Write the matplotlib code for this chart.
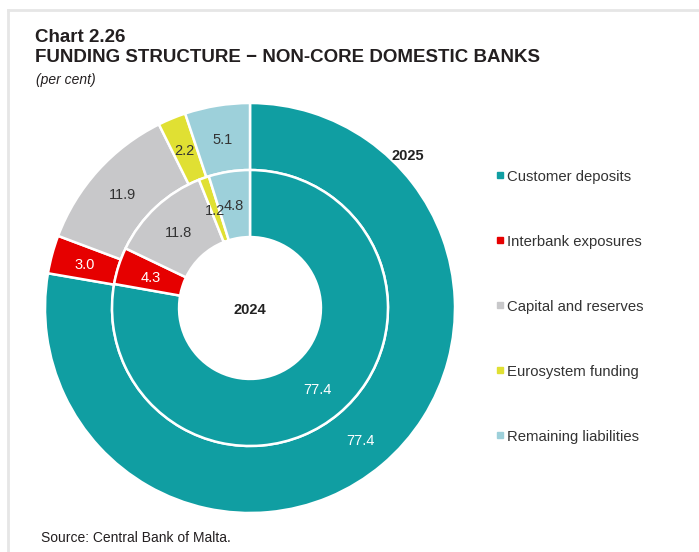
import numpy as np
import matplotlib
matplotlib.use('Agg')
import matplotlib.pyplot as plt
from matplotlib.lines import Line2D

plt.rcParams['font.family'] = ['Liberation Sans', 'DejaVu Sans']

categories = ['Customer deposits', 'Interbank exposures', 'Capital and reserves',
              'Eurosystem funding', 'Remaining liabilities']
vals_2025 = [77.4, 3.0, 11.9, 2.2, 5.1]
vals_2024 = [77.4, 4.3, 11.8, 1.2, 4.8]
colors = ['#109ea2', '#e60000', '#c8c8ca', '#e0e033', '#9dd0da']
label_colors = ['white', 'white', '#333333', '#333333', '#333333']

W, H = 699, 552
fig = plt.figure(figsize=(W / 100, H / 100), dpi=100)


def px(x, y):
    # pixel position (from top-left) to figure fraction
    return x / W, 1 - y / H


# pie axes: centre (250, 308) px, outer radius 205 px
cx, cy, R = 250, 308, 205
ax = fig.add_axes([(cx - R) / W, (H - cy - R) / H, 2 * R / W, 2 * R / H])
ring = 0.327
wp = dict(width=ring, edgecolor='white', linewidth=1.8)

outer, _ = ax.pie(vals_2025, radius=1.0, colors=colors, startangle=90,
                  counterclock=False, wedgeprops=wp)
inner, _ = ax.pie(vals_2024, radius=1.0 - ring, colors=colors, startangle=90,
                  counterclock=False, wedgeprops=wp)
ax.set_xlim(-1, 1)
ax.set_ylim(-1, 1)
ax.set_aspect('equal')
ax.axis('off')


def put_labels(wedges, vals, r_mid):
    for w, v, c in zip(wedges, vals, label_colors):
        ang = np.deg2rad((w.theta1 + w.theta2) / 2)
        ax.text(r_mid * np.cos(ang), r_mid * np.sin(ang), '%.1f' % v,
                ha='center', va='center_baseline', fontsize=10.5, color=c)


put_labels(outer, vals_2025, 1.0 - ring / 2)
put_labels(inner, vals_2024, 1.0 - ring * 1.5)

ax.text(0, 0, '2024', ha='center', va='center_baseline', fontsize=10.5,
        fontweight='bold', color='#222222')
fig.text(*px(408, 154), '2025', ha='center', va='center_baseline',
         fontsize=10.5, fontweight='bold', color='#222222')

# legend
for i, (name, col) in enumerate(zip(categories, colors)):
    y = 175 + 65 * i
    fig.add_artist(Line2D([px(500, y)[0]], [px(500, y)[1]], marker='s',
                          markersize=4.5, color=col, linestyle='none'))
    fig.text(*px(507, y + 6), name, ha='left', va='baseline', fontsize=10.7,
             color='#333333')

# titles
fig.text(*px(35, 42), 'Chart 2.26', ha='left', va='baseline',
         fontsize=13.5, fontweight='bold', color='#231f20')
fig.text(*px(35, 62), 'FUNDING STRUCTURE \u2212 NON-CORE DOMESTIC BANKS',
         ha='left', va='baseline', fontsize=13.5, fontweight='bold',
         color='#231f20')
fig.text(*px(36, 84), '(per cent)', ha='left', va='baseline',
         fontsize=10, style='italic', color='#231f20')
fig.text(*px(41, 542), 'Source: Central Bank of Malta.', ha='left',
         va='baseline', fontsize=10, color='#231f20')

# frame lines
fig.add_artist(Line2D([8 / W, 1], [1 - 10 / H, 1 - 10 / H], color='#e6e6e6',
                      linewidth=2))
fig.add_artist(Line2D([8 / W, 8 / W], [0, 1 - 10 / H], color='#e6e6e6',
                      linewidth=2))

fig.savefig('out.png', dpi=100)
